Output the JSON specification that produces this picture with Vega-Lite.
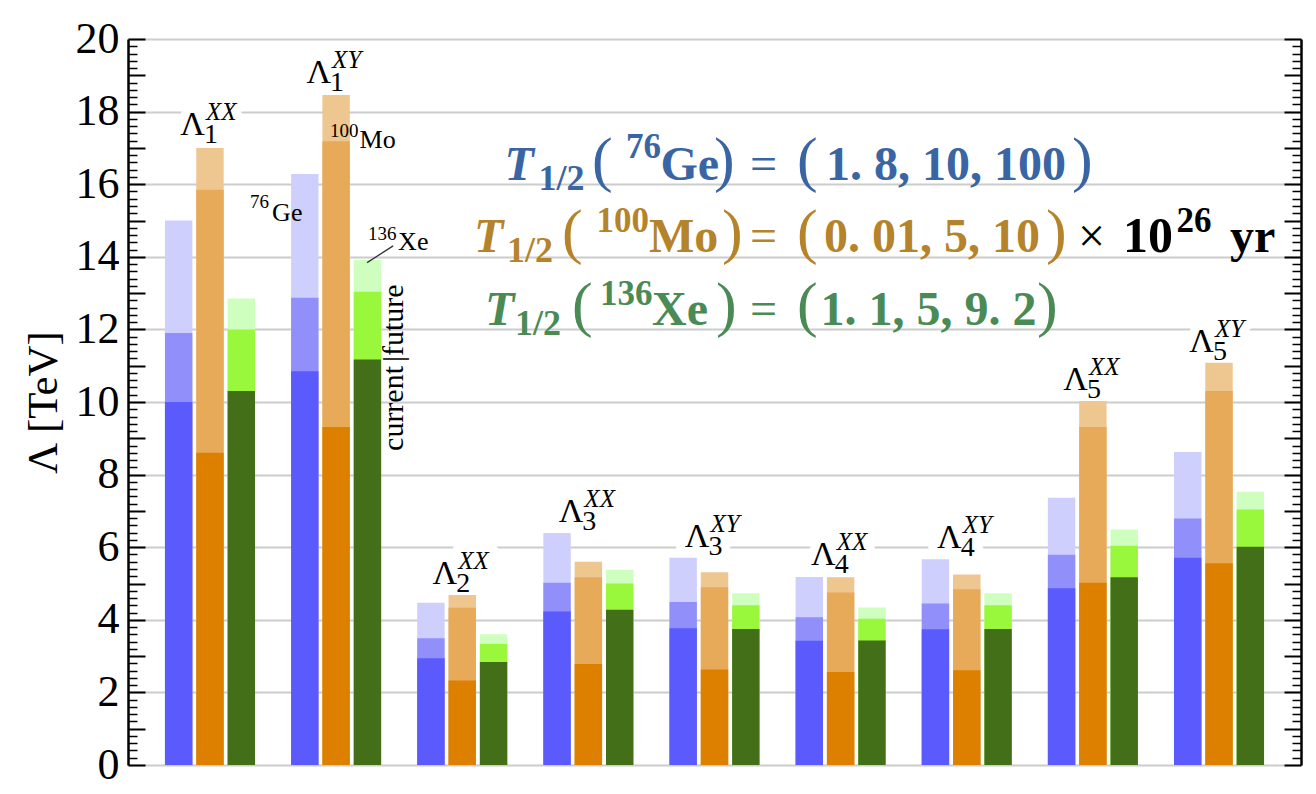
{
"$schema":"https://vega.github.io/schema/vega-lite/v6.json",
"width":1173,"height":726,
"autosize":{"type":"none"},
"padding":{"left":128,"top":39,"right":15,"bottom":29},
"background":"white",
"config":{"view":{"stroke":null},"axisX":{"domainColor":"black","domainWidth":2.5,"ticks":false,"labels":false,"grid":false}},
"datasets":{
"bars":[
{"g":"1XX","iso":"Ge","lvl":1,"s":"Ge1","v":10.0},{"g":"1XX","iso":"Ge","lvl":2,"s":"Ge2","v":11.9},{"g":"1XX","iso":"Ge","lvl":3,"s":"Ge3","v":15.0},
{"g":"1XX","iso":"Mo","lvl":1,"s":"Mo1","v":8.6},{"g":"1XX","iso":"Mo","lvl":2,"s":"Mo2","v":15.85},{"g":"1XX","iso":"Mo","lvl":3,"s":"Mo3","v":17.0},
{"g":"1XX","iso":"Xe","lvl":1,"s":"Xe1","v":10.3},{"g":"1XX","iso":"Xe","lvl":2,"s":"Xe2","v":12.0},{"g":"1XX","iso":"Xe","lvl":3,"s":"Xe3","v":12.85},
{"g":"1XY","iso":"Ge","lvl":1,"s":"Ge1","v":10.85},{"g":"1XY","iso":"Ge","lvl":2,"s":"Ge2","v":12.87},{"g":"1XY","iso":"Ge","lvl":3,"s":"Ge3","v":16.28},
{"g":"1XY","iso":"Mo","lvl":1,"s":"Mo1","v":9.31},{"g":"1XY","iso":"Mo","lvl":2,"s":"Mo2","v":17.18},{"g":"1XY","iso":"Mo","lvl":3,"s":"Mo3","v":18.46},
{"g":"1XY","iso":"Xe","lvl":1,"s":"Xe1","v":11.17},{"g":"1XY","iso":"Xe","lvl":2,"s":"Xe2","v":13.04},{"g":"1XY","iso":"Xe","lvl":3,"s":"Xe3","v":13.91},
{"g":"2XX","iso":"Ge","lvl":1,"s":"Ge1","v":2.94},{"g":"2XX","iso":"Ge","lvl":2,"s":"Ge2","v":3.49},{"g":"2XX","iso":"Ge","lvl":3,"s":"Ge3","v":4.47},
{"g":"2XX","iso":"Mo","lvl":1,"s":"Mo1","v":2.33},{"g":"2XX","iso":"Mo","lvl":2,"s":"Mo2","v":4.33},{"g":"2XX","iso":"Mo","lvl":3,"s":"Mo3","v":4.68},
{"g":"2XX","iso":"Xe","lvl":1,"s":"Xe1","v":2.84},{"g":"2XX","iso":"Xe","lvl":2,"s":"Xe2","v":3.33},{"g":"2XX","iso":"Xe","lvl":3,"s":"Xe3","v":3.6},
{"g":"3XX","iso":"Ge","lvl":1,"s":"Ge1","v":4.23},{"g":"3XX","iso":"Ge","lvl":2,"s":"Ge2","v":5.02},{"g":"3XX","iso":"Ge","lvl":3,"s":"Ge3","v":6.39},
{"g":"3XX","iso":"Mo","lvl":1,"s":"Mo1","v":2.78},{"g":"3XX","iso":"Mo","lvl":2,"s":"Mo2","v":5.17},{"g":"3XX","iso":"Mo","lvl":3,"s":"Mo3","v":5.6},
{"g":"3XX","iso":"Xe","lvl":1,"s":"Xe1","v":4.28},{"g":"3XX","iso":"Xe","lvl":2,"s":"Xe2","v":5.0},{"g":"3XX","iso":"Xe","lvl":3,"s":"Xe3","v":5.38},
{"g":"3XY","iso":"Ge","lvl":1,"s":"Ge1","v":3.77},{"g":"3XY","iso":"Ge","lvl":2,"s":"Ge2","v":4.49},{"g":"3XY","iso":"Ge","lvl":3,"s":"Ge3","v":5.71},
{"g":"3XY","iso":"Mo","lvl":1,"s":"Mo1","v":2.63},{"g":"3XY","iso":"Mo","lvl":2,"s":"Mo2","v":4.9},{"g":"3XY","iso":"Mo","lvl":3,"s":"Mo3","v":5.31},
{"g":"3XY","iso":"Xe","lvl":1,"s":"Xe1","v":3.75},{"g":"3XY","iso":"Xe","lvl":2,"s":"Xe2","v":4.4},{"g":"3XY","iso":"Xe","lvl":3,"s":"Xe3","v":4.73},
{"g":"4XX","iso":"Ge","lvl":1,"s":"Ge1","v":3.42},{"g":"4XX","iso":"Ge","lvl":2,"s":"Ge2","v":4.07},{"g":"4XX","iso":"Ge","lvl":3,"s":"Ge3","v":5.18},
{"g":"4XX","iso":"Mo","lvl":1,"s":"Mo1","v":2.56},{"g":"4XX","iso":"Mo","lvl":2,"s":"Mo2","v":4.75},{"g":"4XX","iso":"Mo","lvl":3,"s":"Mo3","v":5.17},
{"g":"4XX","iso":"Xe","lvl":1,"s":"Xe1","v":3.43},{"g":"4XX","iso":"Xe","lvl":2,"s":"Xe2","v":4.03},{"g":"4XX","iso":"Xe","lvl":3,"s":"Xe3","v":4.34},
{"g":"4XY","iso":"Ge","lvl":1,"s":"Ge1","v":3.74},{"g":"4XY","iso":"Ge","lvl":2,"s":"Ge2","v":4.45},{"g":"4XY","iso":"Ge","lvl":3,"s":"Ge3","v":5.67},
{"g":"4XY","iso":"Mo","lvl":1,"s":"Mo1","v":2.61},{"g":"4XY","iso":"Mo","lvl":2,"s":"Mo2","v":4.84},{"g":"4XY","iso":"Mo","lvl":3,"s":"Mo3","v":5.25},
{"g":"4XY","iso":"Xe","lvl":1,"s":"Xe1","v":3.75},{"g":"4XY","iso":"Xe","lvl":2,"s":"Xe2","v":4.4},{"g":"4XY","iso":"Xe","lvl":3,"s":"Xe3","v":4.73},
{"g":"5XX","iso":"Ge","lvl":1,"s":"Ge1","v":4.87},{"g":"5XX","iso":"Ge","lvl":2,"s":"Ge2","v":5.79},{"g":"5XX","iso":"Ge","lvl":3,"s":"Ge3","v":7.36},
{"g":"5XX","iso":"Mo","lvl":1,"s":"Mo1","v":5.02},{"g":"5XX","iso":"Mo","lvl":2,"s":"Mo2","v":9.31},{"g":"5XX","iso":"Mo","lvl":3,"s":"Mo3","v":10.03},
{"g":"5XX","iso":"Xe","lvl":1,"s":"Xe1","v":5.17},{"g":"5XX","iso":"Xe","lvl":2,"s":"Xe2","v":6.04},{"g":"5XX","iso":"Xe","lvl":3,"s":"Xe3","v":6.49},
{"g":"5XY","iso":"Ge","lvl":1,"s":"Ge1","v":5.71},{"g":"5XY","iso":"Ge","lvl":2,"s":"Ge2","v":6.79},{"g":"5XY","iso":"Ge","lvl":3,"s":"Ge3","v":8.62},
{"g":"5XY","iso":"Mo","lvl":1,"s":"Mo1","v":5.56},{"g":"5XY","iso":"Mo","lvl":2,"s":"Mo2","v":10.3},{"g":"5XY","iso":"Mo","lvl":3,"s":"Mo3","v":11.08},
{"g":"5XY","iso":"Xe","lvl":1,"s":"Xe1","v":6.01},{"g":"5XY","iso":"Xe","lvl":2,"s":"Xe2","v":7.04},{"g":"5XY","iso":"Xe","lvl":3,"s":"Xe3","v":7.53}
],
"lab":[
{"g":"1XX","y":17.36,"sub":"1","sup":"XX"},{"g":"1XY","y":18.78,"sub":"1","sup":"XY"},{"g":"2XX","y":5.0,"sub":"2","sup":"XX"},
{"g":"3XX","y":6.7,"sub":"3","sup":"XX"},{"g":"3XY","y":6.01,"sub":"3","sup":"XY"},{"g":"4XX","y":5.51,"sub":"4","sup":"XX"},
{"g":"4XY","y":5.97,"sub":"4","sup":"XY"},{"g":"5XX","y":10.33,"sub":"5","sup":"XX"},{"g":"5XY","y":11.39,"sub":"5","sup":"XY"}
],
"geL":[{"g":"1XY","y":15.0}],
"moL":[{"g":"1XY","y":17.0}],
"xeL":[{"g":"1XY","y":14.2}],
"ptr":[{"g":"1XY","y":13.84,"y2":14.3}],
"cf":[{"g":"1XY","y":11.13}],
"L1":[{"g":"3XY","y":16.115}],
"L2":[{"g":"3XY","y":14.132}],
"L3":[{"g":"3XY","y":12.121}]
},
"resolve":{"axis":{"y":"independent"}},
"layer":[
{"data":{"name":"lab"},"mark":{"type":"text","text":"Λ","font":"Liberation Serif","fontSize":34,"align":"right","baseline":"alphabetic","dx":-5,"fill":"white","stroke":"white","strokeWidth":18,"strokeJoin":"round"},
 "encoding":{"x":{"field":"g","type":"nominal","axis":null},"y":{"field":"y","type":"quantitative","scale":{"domain":[0,20],"nice":false},
  "axis":{"orient":"left","values":[0,1,2,3,4,5,6,7,8,9,10,11,12,13,14,15,16,17,18,19,20],"ticks":true,"tickSize":-17,"tickWidth":2,"tickColor":"black","labels":false,"domain":false,"grid":false,"title":null}}}},
{"data":{"name":"lab"},"mark":{"type":"text","font":"Liberation Serif","fontSize":28,"align":"left","baseline":"alphabetic","dx":-6,"dy":8,"fill":"white","stroke":"white","strokeWidth":18,"strokeJoin":"round"},
 "encoding":{"x":{"field":"g","type":"nominal","axis":null},"text":{"field":"sub"},"y":{"field":"y","type":"quantitative","scale":{"domain":[0,20],"nice":false},
  "axis":{"orient":"left","values":[0.2,0.4,0.6,0.8,1.2,1.4,1.6,1.8,2.2,2.4,2.6,2.8,3.2,3.4,3.6,3.8,4.2,4.4,4.6,4.8,5.2,5.4,5.6,5.8,6.2,6.4,6.6,6.8,7.2,7.4,7.6,7.8,8.2,8.4,8.6,8.8,9.2,9.4,9.6,9.8,10.2,10.4,10.6,10.8,11.2,11.4,11.6,11.8,12.2,12.4,12.6,12.8,13.2,13.4,13.6,13.8,14.2,14.4,14.6,14.8,15.2,15.4,15.6,15.8,16.2,16.4,16.6,16.8,17.2,17.4,17.6,17.8,18.2,18.4,18.6,18.8,19.2,19.4,19.6,19.8],"ticks":true,"tickSize":-9,"tickWidth":1.5,"tickColor":"black","labels":false,"domain":false,"grid":false,"title":null}}}},
{"data":{"name":"lab"},"mark":{"type":"text","font":"Liberation Serif","fontSize":25,"fontStyle":"italic","align":"left","baseline":"alphabetic","dx":-4,"dy":-15,"fill":"white","stroke":"white","strokeWidth":18,"strokeJoin":"round"},
 "encoding":{"x":{"field":"g","type":"nominal","axis":null},"text":{"field":"sup"},"y":{"field":"y","type":"quantitative","scale":{"domain":[0,20],"nice":false},
  "axis":{"orient":"right","values":[0,1,2,3,4,5,6,7,8,9,10,11,12,13,14,15,16,17,18,19,20],"ticks":true,"tickSize":-17,"tickWidth":2,"tickColor":"black","labels":false,"domain":true,"domainColor":"black","domainWidth":2.5,"grid":false,"title":null}}}},
{"data":{"name":"bars"},"mark":{"type":"bar"},
 "encoding":{
  "x":{"field":"g","type":"nominal","sort":["1XX","1XY","2XX","3XX","3XY","4XX","4XY","5XX","5XY"],"scale":{"domain":["1XX","1XY","2XX","3XX","3XY","4XX","4XY","5XX","5XY"],"paddingInner":0.286,"paddingOuter":0.293},"axis":{"title":null,"ticks":false,"labels":false,"domain":true,"domainColor":"black","domainWidth":2.5,"grid":false}},
  "xOffset":{"field":"iso","type":"nominal","scale":{"domain":["Ge","Mo","Xe"],"paddingInner":0.125,"paddingOuter":0}},
  "y":{"field":"v","type":"quantitative","stack":null,"scale":{"domain":[0,20],"nice":false},
   "axis":{"orient":"left","values":[0,2,4,6,8,10,12,14,16,18,20],"ticks":false,"labels":true,"labelFont":"Liberation Serif","labelFontSize":44,"labelColor":"black","labelPadding":9,"labelFlush":false,"domain":true,"domainColor":"black","domainWidth":2.5,"grid":true,"gridColor":"#cccccc","gridWidth":2,"title":"Λ [TeV]","titleFont":"Liberation Serif","titleFontSize":43,"titleFontWeight":"normal","titleColor":"black","titlePadding":10}},
  "color":{"field":"s","type":"nominal","legend":null,"scale":{"domain":["Ge1","Ge2","Ge3","Mo1","Mo2","Mo3","Xe1","Xe2","Xe3"],"range":["#5b5bfd","#9190fb","#cfcffd","#dd8000","#e6aa58","#eec68f","#436f19","#99f83b","#cfffbf"]}},
  "order":{"field":"lvl","sort":"descending"}
 }},
{"data":{"name":"lab"},"mark":{"type":"text","text":"Λ","font":"Liberation Serif","fontSize":34,"align":"right","baseline":"alphabetic","dx":-5,"color":"black"},
 "encoding":{"x":{"field":"g","type":"nominal","axis":null},"y":{"field":"y","type":"quantitative","scale":{"domain":[0,20],"nice":false},
  "axis":{"orient":"right","values":[0.2,0.4,0.6,0.8,1.2,1.4,1.6,1.8,2.2,2.4,2.6,2.8,3.2,3.4,3.6,3.8,4.2,4.4,4.6,4.8,5.2,5.4,5.6,5.8,6.2,6.4,6.6,6.8,7.2,7.4,7.6,7.8,8.2,8.4,8.6,8.8,9.2,9.4,9.6,9.8,10.2,10.4,10.6,10.8,11.2,11.4,11.6,11.8,12.2,12.4,12.6,12.8,13.2,13.4,13.6,13.8,14.2,14.4,14.6,14.8,15.2,15.4,15.6,15.8,16.2,16.4,16.6,16.8,17.2,17.4,17.6,17.8,18.2,18.4,18.6,18.8,19.2,19.4,19.6,19.8],"ticks":true,"tickSize":-9,"tickWidth":1.5,"tickColor":"black","labels":false,"domain":false,"grid":false,"title":null}}}},
{"data":{"name":"lab"},"mark":{"type":"text","font":"Liberation Serif","fontSize":28,"align":"left","baseline":"alphabetic","dx":-6,"dy":8,"color":"black"},
 "encoding":{"x":{"field":"g","type":"nominal","axis":null},"text":{"field":"sub"},"y":{"field":"y","type":"quantitative","axis":null}}},
{"data":{"name":"lab"},"mark":{"type":"text","font":"Liberation Serif","fontSize":25,"fontStyle":"italic","align":"left","baseline":"alphabetic","dx":-4,"dy":-15,"color":"black"},
 "encoding":{"x":{"field":"g","type":"nominal","axis":null},"text":{"field":"sup"},"y":{"field":"y","type":"quantitative","axis":null}}},
{"data":{"name":"geL"},"mark":{"type":"text","text":"Ge","font":"Liberation Serif","fontSize":26,"align":"left","baseline":"alphabetic","dx":-64,"color":"black"},"encoding":{"x":{"field":"g","type":"nominal","axis":null},"y":{"field":"y","type":"quantitative","axis":null}}},
{"data":{"name":"geL"},"mark":{"type":"text","text":"76","font":"Liberation Serif","fontSize":19,"align":"left","baseline":"alphabetic","dx":-86,"dy":-13,"color":"black"},"encoding":{"x":{"field":"g","type":"nominal","axis":null},"y":{"field":"y","type":"quantitative","axis":null}}},
{"data":{"name":"moL"},"mark":{"type":"text","text":"Mo","font":"Liberation Serif","fontSize":26,"align":"left","baseline":"alphabetic","dx":23.5,"color":"black"},"encoding":{"x":{"field":"g","type":"nominal","axis":null},"y":{"field":"y","type":"quantitative","axis":null}}},
{"data":{"name":"moL"},"mark":{"type":"text","text":"100","font":"Liberation Serif","fontSize":19,"align":"left","baseline":"alphabetic","dx":-6,"dy":-11,"color":"black"},"encoding":{"x":{"field":"g","type":"nominal","axis":null},"y":{"field":"y","type":"quantitative","axis":null}}},
{"data":{"name":"xeL"},"mark":{"type":"text","text":"Xe","font":"Liberation Serif","fontSize":26,"align":"left","baseline":"alphabetic","dx":62,"color":"black"},"encoding":{"x":{"field":"g","type":"nominal","axis":null},"y":{"field":"y","type":"quantitative","axis":null}}},
{"data":{"name":"xeL"},"mark":{"type":"text","text":"136","font":"Liberation Serif","fontSize":19,"align":"left","baseline":"alphabetic","dx":32,"dy":-10,"color":"black"},"encoding":{"x":{"field":"g","type":"nominal","axis":null},"y":{"field":"y","type":"quantitative","axis":null}}},
{"data":{"name":"ptr"},"mark":{"type":"rule","color":"#333333","strokeWidth":1.3,"xOffset":31,"x2Offset":57},"encoding":{"x":{"field":"g","type":"nominal","axis":null},"x2":{"field":"g"},"y":{"field":"y","type":"quantitative","axis":null},"y2":{"field":"y2"}}},
{"data":{"name":"cf"},"mark":{"type":"text","text":"current","font":"Liberation Serif","fontSize":30,"angle":270,"align":"right","baseline":"alphabetic","dx":-5,"dy":67,"color":"black"},"encoding":{"x":{"field":"g","type":"nominal","axis":null},"y":{"field":"y","type":"quantitative","axis":null}}},
{"data":{"name":"cf"},"mark":{"type":"text","text":"|future","font":"Liberation Serif","fontSize":30,"angle":270,"align":"left","baseline":"alphabetic","dx":-1,"dy":67,"color":"black"},"encoding":{"x":{"field":"g","type":"nominal","axis":null},"y":{"field":"y","type":"quantitative","axis":null}}},

{"data":{"name":"L1"},"mark":{"type":"text","text":"T","font":"Liberation Serif","fontSize":48,"fontWeight":"bold","fontStyle":"italic","align":"left","baseline":"alphabetic","dx":-210,"color":"#3a65a5"},"encoding":{"x":{"field":"g","type":"nominal","axis":null},"y":{"field":"y","type":"quantitative","axis":null}}},
{"data":{"name":"L1"},"mark":{"type":"text","text":"1/2","font":"Liberation Serif","fontSize":36,"fontWeight":"bold","align":"left","baseline":"alphabetic","dx":-176,"dy":10,"color":"#3a65a5"},"encoding":{"x":{"field":"g","type":"nominal","axis":null},"y":{"field":"y","type":"quantitative","axis":null}}},
{"data":{"name":"L1"},"mark":{"type":"text","text":"(","font":"Liberation Serif","fontSize":62,"align":"left","baseline":"alphabetic","dx":-122.5,"color":"#3a65a5"},"encoding":{"x":{"field":"g","type":"nominal","axis":null},"y":{"field":"y","type":"quantitative","axis":null}}},
{"data":{"name":"L1"},"mark":{"type":"text","text":"76","font":"Liberation Serif","fontSize":35,"fontWeight":"bold","align":"right","baseline":"alphabetic","dx":-53.5,"dy":-22,"color":"#3a65a5"},"encoding":{"x":{"field":"g","type":"nominal","axis":null},"y":{"field":"y","type":"quantitative","axis":null}}},
{"data":{"name":"L1"},"mark":{"type":"text","text":"Ge","font":"Liberation Serif","fontSize":48,"fontWeight":"bold","align":"left","baseline":"alphabetic","dx":-54,"color":"#3a65a5"},"encoding":{"x":{"field":"g","type":"nominal","axis":null},"y":{"field":"y","type":"quantitative","axis":null}}},
{"data":{"name":"L1"},"mark":{"type":"text","text":")","font":"Liberation Serif","fontSize":62,"align":"left","baseline":"alphabetic","dx":-0.5,"color":"#3a65a5"},"encoding":{"x":{"field":"g","type":"nominal","axis":null},"y":{"field":"y","type":"quantitative","axis":null}}},
{"data":{"name":"L1"},"mark":{"type":"text","text":"=","font":"Liberation Serif","fontSize":48,"align":"left","baseline":"alphabetic","dx":35.5,"color":"#3a65a5"},"encoding":{"x":{"field":"g","type":"nominal","axis":null},"y":{"field":"y","type":"quantitative","axis":null}}},
{"data":{"name":"L1"},"mark":{"type":"text","text":"(","font":"Liberation Serif","fontSize":62,"align":"left","baseline":"alphabetic","dx":82.5,"color":"#3a65a5"},"encoding":{"x":{"field":"g","type":"nominal","axis":null},"y":{"field":"y","type":"quantitative","axis":null}}},
{"data":{"name":"L1"},"mark":{"type":"text","text":"1. 8, 10, 100","font":"Liberation Serif","fontSize":48,"fontWeight":"bold","align":"center","baseline":"alphabetic","dx":231.5,"color":"#3a65a5"},"encoding":{"x":{"field":"g","type":"nominal","axis":null},"y":{"field":"y","type":"quantitative","axis":null}}},
{"data":{"name":"L1"},"mark":{"type":"text","text":")","font":"Liberation Serif","fontSize":62,"align":"left","baseline":"alphabetic","dx":357.5,"color":"#3a65a5"},"encoding":{"x":{"field":"g","type":"nominal","axis":null},"y":{"field":"y","type":"quantitative","axis":null}}},

{"data":{"name":"L2"},"mark":{"type":"text","text":"T","font":"Liberation Serif","fontSize":48,"fontWeight":"bold","fontStyle":"italic","align":"left","baseline":"alphabetic","dx":-240.5,"color":"#b5832a"},"encoding":{"x":{"field":"g","type":"nominal","axis":null},"y":{"field":"y","type":"quantitative","axis":null}}},
{"data":{"name":"L2"},"mark":{"type":"text","text":"1/2","font":"Liberation Serif","fontSize":36,"fontWeight":"bold","align":"left","baseline":"alphabetic","dx":-207.5,"dy":10,"color":"#b5832a"},"encoding":{"x":{"field":"g","type":"nominal","axis":null},"y":{"field":"y","type":"quantitative","axis":null}}},
{"data":{"name":"L2"},"mark":{"type":"text","text":"(","font":"Liberation Serif","fontSize":62,"align":"left","baseline":"alphabetic","dx":-152.5,"color":"#b5832a"},"encoding":{"x":{"field":"g","type":"nominal","axis":null},"y":{"field":"y","type":"quantitative","axis":null}}},
{"data":{"name":"L2"},"mark":{"type":"text","text":"100","font":"Liberation Serif","fontSize":35,"fontWeight":"bold","align":"right","baseline":"alphabetic","dx":-65.5,"dy":-20,"color":"#b5832a"},"encoding":{"x":{"field":"g","type":"nominal","axis":null},"y":{"field":"y","type":"quantitative","axis":null}}},
{"data":{"name":"L2"},"mark":{"type":"text","text":"Mo","font":"Liberation Serif","fontSize":48,"fontWeight":"bold","align":"left","baseline":"alphabetic","dx":-65.5,"color":"#b5832a"},"encoding":{"x":{"field":"g","type":"nominal","axis":null},"y":{"field":"y","type":"quantitative","axis":null}}},
{"data":{"name":"L2"},"mark":{"type":"text","text":")","font":"Liberation Serif","fontSize":62,"align":"left","baseline":"alphabetic","dx":7.5,"color":"#b5832a"},"encoding":{"x":{"field":"g","type":"nominal","axis":null},"y":{"field":"y","type":"quantitative","axis":null}}},
{"data":{"name":"L2"},"mark":{"type":"text","text":"=","font":"Liberation Serif","fontSize":48,"align":"left","baseline":"alphabetic","dx":35.5,"color":"#b5832a"},"encoding":{"x":{"field":"g","type":"nominal","axis":null},"y":{"field":"y","type":"quantitative","axis":null}}},
{"data":{"name":"L2"},"mark":{"type":"text","text":"(","font":"Liberation Serif","fontSize":62,"align":"left","baseline":"alphabetic","dx":82.5,"color":"#b5832a"},"encoding":{"x":{"field":"g","type":"nominal","axis":null},"y":{"field":"y","type":"quantitative","axis":null}}},
{"data":{"name":"L2"},"mark":{"type":"text","text":"0. 01, 5, 10","font":"Liberation Serif","fontSize":48,"fontWeight":"bold","align":"center","baseline":"alphabetic","dx":217.5,"color":"#b5832a"},"encoding":{"x":{"field":"g","type":"nominal","axis":null},"y":{"field":"y","type":"quantitative","axis":null}}},
{"data":{"name":"L2"},"mark":{"type":"text","text":")","font":"Liberation Serif","fontSize":62,"align":"left","baseline":"alphabetic","dx":331.5,"color":"#b5832a"},"encoding":{"x":{"field":"g","type":"nominal","axis":null},"y":{"field":"y","type":"quantitative","axis":null}}},
{"data":{"name":"L2"},"mark":{"type":"text","text":"×","font":"Liberation Serif","fontSize":48,"align":"left","baseline":"alphabetic","dx":363.5,"color":"black"},"encoding":{"x":{"field":"g","type":"nominal","axis":null},"y":{"field":"y","type":"quantitative","axis":null}}},
{"data":{"name":"L2"},"mark":{"type":"text","text":"10","font":"Liberation Serif","fontSize":50,"fontWeight":"bold","align":"left","baseline":"alphabetic","dx":408.5,"color":"black"},"encoding":{"x":{"field":"g","type":"nominal","axis":null},"y":{"field":"y","type":"quantitative","axis":null}}},
{"data":{"name":"L2"},"mark":{"type":"text","text":"26","font":"Liberation Serif","fontSize":35,"fontWeight":"bold","align":"left","baseline":"alphabetic","dx":462,"dy":-20,"color":"black"},"encoding":{"x":{"field":"g","type":"nominal","axis":null},"y":{"field":"y","type":"quantitative","axis":null}}},
{"data":{"name":"L2"},"mark":{"type":"text","text":"yr","font":"Liberation Serif","fontSize":48,"fontWeight":"bold","align":"left","baseline":"alphabetic","dx":515.5,"color":"black"},"encoding":{"x":{"field":"g","type":"nominal","axis":null},"y":{"field":"y","type":"quantitative","axis":null}}},

{"data":{"name":"L3"},"mark":{"type":"text","text":"T","font":"Liberation Serif","fontSize":48,"fontWeight":"bold","fontStyle":"italic","align":"left","baseline":"alphabetic","dx":-229.5,"color":"#4a8b55"},"encoding":{"x":{"field":"g","type":"nominal","axis":null},"y":{"field":"y","type":"quantitative","axis":null}}},
{"data":{"name":"L3"},"mark":{"type":"text","text":"1/2","font":"Liberation Serif","fontSize":36,"fontWeight":"bold","align":"left","baseline":"alphabetic","dx":-199.5,"dy":10,"color":"#4a8b55"},"encoding":{"x":{"field":"g","type":"nominal","axis":null},"y":{"field":"y","type":"quantitative","axis":null}}},
{"data":{"name":"L3"},"mark":{"type":"text","text":"(","font":"Liberation Serif","fontSize":62,"align":"left","baseline":"alphabetic","dx":-142.5,"color":"#4a8b55"},"encoding":{"x":{"field":"g","type":"nominal","axis":null},"y":{"field":"y","type":"quantitative","axis":null}}},
{"data":{"name":"L3"},"mark":{"type":"text","text":"136","font":"Liberation Serif","fontSize":35,"fontWeight":"bold","align":"right","baseline":"alphabetic","dx":-62,"dy":-20,"color":"#4a8b55"},"encoding":{"x":{"field":"g","type":"nominal","axis":null},"y":{"field":"y","type":"quantitative","axis":null}}},
{"data":{"name":"L3"},"mark":{"type":"text","text":"Xe","font":"Liberation Serif","fontSize":48,"fontWeight":"bold","align":"left","baseline":"alphabetic","dx":-62.5,"color":"#4a8b55"},"encoding":{"x":{"field":"g","type":"nominal","axis":null},"y":{"field":"y","type":"quantitative","axis":null}}},
{"data":{"name":"L3"},"mark":{"type":"text","text":")","font":"Liberation Serif","fontSize":62,"align":"left","baseline":"alphabetic","dx":1.5,"color":"#4a8b55"},"encoding":{"x":{"field":"g","type":"nominal","axis":null},"y":{"field":"y","type":"quantitative","axis":null}}},
{"data":{"name":"L3"},"mark":{"type":"text","text":"=","font":"Liberation Serif","fontSize":48,"align":"left","baseline":"alphabetic","dx":35.5,"color":"#4a8b55"},"encoding":{"x":{"field":"g","type":"nominal","axis":null},"y":{"field":"y","type":"quantitative","axis":null}}},
{"data":{"name":"L3"},"mark":{"type":"text","text":"(","font":"Liberation Serif","fontSize":62,"align":"left","baseline":"alphabetic","dx":82.5,"color":"#4a8b55"},"encoding":{"x":{"field":"g","type":"nominal","axis":null},"y":{"field":"y","type":"quantitative","axis":null}}},
{"data":{"name":"L3"},"mark":{"type":"text","text":"1. 1, 5, 9. 2","font":"Liberation Serif","fontSize":48,"fontWeight":"bold","align":"center","baseline":"alphabetic","dx":214,"color":"#4a8b55"},"encoding":{"x":{"field":"g","type":"nominal","axis":null},"y":{"field":"y","type":"quantitative","axis":null}}},
{"data":{"name":"L3"},"mark":{"type":"text","text":")","font":"Liberation Serif","fontSize":62,"align":"left","baseline":"alphabetic","dx":322.5,"color":"#4a8b55"},"encoding":{"x":{"field":"g","type":"nominal","axis":null},"y":{"field":"y","type":"quantitative","axis":null}}}
]
}
